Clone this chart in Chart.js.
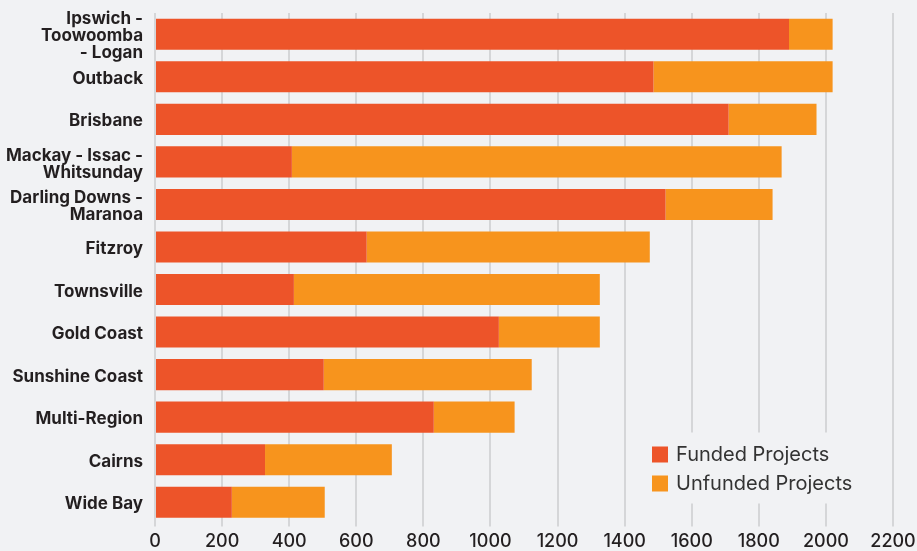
<!DOCTYPE html>
<html>
<head>
<meta charset="utf-8">
<script src="https://cdn.jsdelivr.net/npm/chart.js@4"></script>
<style>
  html, body { margin: 0; padding: 0; background: #F1F2F4; }
  #wrap { width: 917px; height: 551px; position: relative; }
</style>
</head>
<body>
<div id="wrap"><canvas id="chart"></canvas></div>
<script>
// Regions (multi-line names are split the way they are printed)
const regions = [
  ["Ipswich -", "Toowoomba", "- Logan"],
  "Outback",
  "Brisbane",
  ["Mackay - Issac -", "Whitsunday"],
  ["Darling Downs -", "Maranoa"],
  "Fitzroy",
  "Townsville",
  "Gold Coast",
  "Sunshine Coast",
  "Multi-Region",
  "Cairns",
  "Wide Bay"
];
const fundedProjects   = [1890, 1486, 1710, 408, 1522, 631, 414, 1025, 503, 831, 328, 229];
const unfundedProjects = [130, 534, 262, 1460, 319, 844, 912, 301, 620, 241, 378, 277];
const seriesNames = ["Funded Projects", "Unfunded Projects"];
const xTicks = [0, 200, 400, 600, 800, 1000, 1200, 1400, 1600, 1800, 2000, 2200];

const FUNDED_COLOR = "#ED5429";
const UNFUNDED_COLOR = "#F7941D";
const BG = "#F1F2F4";
const TEXT = "#231F20";
const FONT = "Inter, 'Noto Sans', sans-serif";

// Legend drawn inside the plot, lower right, on a panel that hides the grid
const insideLegend = {
  id: "insideLegend",
  afterDraw(chart) {
    const { ctx, chartArea } = chart;
    const boxX = chartArea.right - 253;
    const boxY = chartArea.bottom - 91;
    ctx.save();
    ctx.fillStyle = BG;
    ctx.fillRect(boxX, boxY, 240, 71);
    ctx.font = "400 20px " + FONT;
    ctx.textBaseline = "middle";
    ctx.textAlign = "left";
    chart.data.datasets.forEach((ds, i) => {
      const y = boxY + 14 + i * 29;
      ctx.fillStyle = ds.backgroundColor;
      ctx.fillRect(boxX + 12, y, 16, 16);
      ctx.fillStyle = "#333333";
      ctx.fillText(ds.label, boxX + 36, y + 8.5);
    });
    ctx.restore();
  }
};

new Chart(document.getElementById("chart"), {
  type: "bar",
  data: {
    labels: regions,
    datasets: [
      { label: seriesNames[0], data: fundedProjects, backgroundColor: FUNDED_COLOR },
      { label: seriesNames[1], data: unfundedProjects, backgroundColor: UNFUNDED_COLOR }
    ]
  },
  options: {
    indexAxis: "y",
    responsive: true,
    maintainAspectRatio: false,
    animation: false,
    layout: { padding: { top: 13, right: 24, left: 0, bottom: 0 } },
    datasets: { bar: { categoryPercentage: 1, barPercentage: 0.73, borderWidth: 0 } },
    plugins: {
      legend: { display: false },
      tooltip: { enabled: false }
    },
    scales: {
      x: {
        stacked: true,
        min: 0,
        max: 2200,
        afterBuildTicks(scale) { scale.ticks = xTicks.map(v => ({ value: v })); },
        afterFit(scale) { scale.height = 27.5; scale.paddingLeft = 0; scale.paddingRight = 0; },
        border: { display: false },
        grid: { color: "#D5D6D8", lineWidth: 2, drawTicks: true, tickLength: 3, tickColor: "#D5D6D8" },
        ticks: {
          color: TEXT, padding: 4, maxRotation: 0, autoSkip: false,
          font: { family: FONT, size: 18, weight: "500" },
          callback: v => String(v)
        }
      },
      y: {
        stacked: true,
        afterFit(scale) { scale.width = 155; scale.paddingTop = 0; scale.paddingBottom = 0; },
        border: { display: false },
        grid: { display: false, drawTicks: false },
        ticks: {
          color: TEXT, padding: 12, autoSkip: false, labelOffset: 2,
          font: { family: FONT, size: 17, weight: "bold", lineHeight: 1.0 }
        }
      }
    }
  },
  plugins: [insideLegend]
});
</script>
</body>
</html>
